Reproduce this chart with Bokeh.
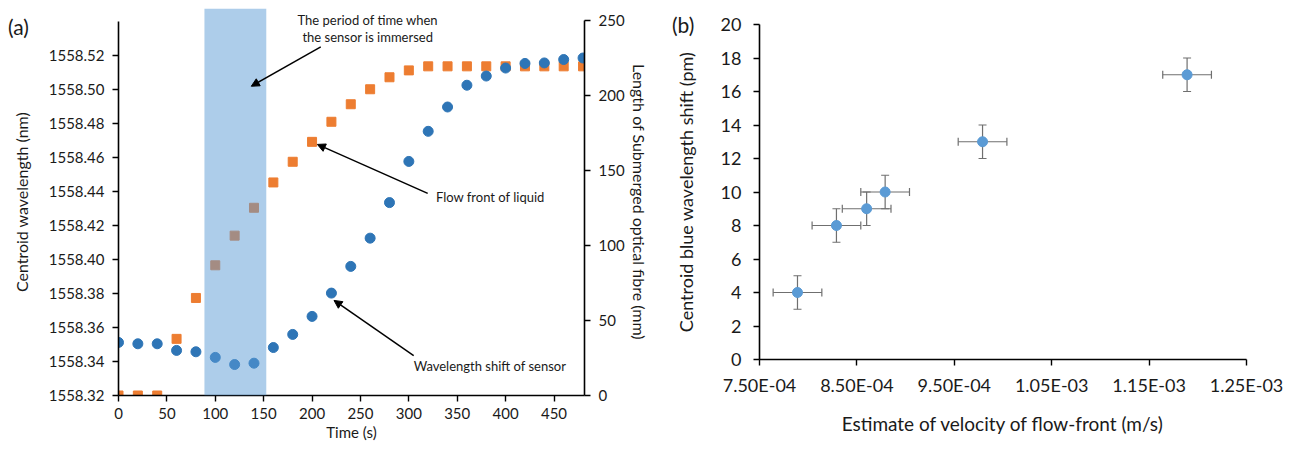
from bokeh.plotting import figure
from bokeh.models import (Range1d, LinearAxis, FixedTicker, BoxAnnotation, Arrow,
                          NormalHead, Label, Whisker, ColumnDataSource,
                          CustomJSTickFormatter, TeeHead, Div)
from bokeh.layouts import row
from bokeh.embed import file_html
from bokeh.resources import INLINE

# ---------------- data: panel (a) ----------------
time_s = [0, 20, 40, 60, 80, 100, 120, 140, 160, 180, 200, 220, 240, 260, 280,
          300, 320, 340, 360, 380, 400, 420, 440, 460, 480]
wavelength_nm = [1558.3512, 1558.3504, 1558.3504, 1558.3465, 1558.3457, 1558.3424,
                 1558.3382, 1558.3390, 1558.3482, 1558.3559, 1558.3665, 1558.3802,
                 1558.3959, 1558.4125, 1558.4334, 1558.4576, 1558.4753, 1558.4896,
                 1558.5024, 1558.5078, 1558.5125, 1558.5152, 1558.5155, 1558.5175,
                 1558.5184]
submerged_mm = [0, 0, 0, 37.8, 65.1, 86.9, 106.7, 125.3, 142.2, 156.0, 169.3, 182.7,
                194.4, 204.4, 212.4, 217.0, 219.7, 219.7, 219.7, 219.7, 219.7, 219.7,
                219.7, 219.7, 219.7]
immersed_start, immersed_end = 88.8, 152.7
time_ticks = [0, 50, 100, 150, 200, 250, 300, 350, 400, 450]
wl_ticks = [1558.32, 1558.34, 1558.36, 1558.38, 1558.40, 1558.42, 1558.44, 1558.46,
            1558.48, 1558.50, 1558.52]
len_ticks = [0, 50, 100, 150, 200, 250]

# ---------------- data: panel (b) ----------------
velocity = [7.89e-4, 8.29e-4, 8.60e-4, 8.79e-4, 9.79e-4, 1.189e-3]
blue_shift_pm = [4, 8, 9, 10, 13, 17]
velocity_err = [2.5e-5, 2.5e-5, 2.5e-5, 2.5e-5, 2.5e-5, 2.5e-5]
shift_err = [1, 1, 1, 1, 1, 1]
vel_ticks = [7.5e-4, 8.5e-4, 9.5e-4, 1.05e-3, 1.15e-3, 1.25e-3]
shift_ticks = [0, 2, 4, 6, 8, 10, 12, 14, 16, 18, 20]

FONT = "Lato"
TXT = "#1a1a1a"


def style_axis(ax, tick_size, title_size):
    ax.axis_line_color = "black"
    ax.axis_line_width = 1.6
    ax.major_tick_line_color = "black"
    ax.major_tick_line_width = 1.4
    ax.major_tick_out = 6
    ax.major_tick_in = 0
    ax.minor_tick_line_color = None
    ax.major_label_text_font = FONT
    ax.major_label_text_font_size = tick_size
    ax.major_label_text_color = TXT
    ax.axis_label_text_font = FONT
    ax.axis_label_text_font_size = title_size
    ax.axis_label_text_font_style = "normal"
    ax.axis_label_text_color = TXT


# ---------------- panel (a) ----------------
p1 = figure(width=660, height=453, output_backend="svg", toolbar_location=None,
            x_range=Range1d(0, 481.5), y_range=Range1d(1558.32, 1558.5475),
            min_border_left=118, min_border_right=76, min_border_top=8,
            min_border_bottom=58)
p1.frame_align = False
p1.outline_line_color = None
p1.border_fill_color = None
p1.grid.visible = False
p1.extra_y_ranges = {"len": Range1d(0, 258.3)}

p1.xaxis.ticker = FixedTicker(ticks=time_ticks)
p1.xaxis.axis_label = "Time (s)"
p1.xaxis.major_label_standoff = 6
p1.xaxis.axis_label_standoff = 1
style_axis(p1.xaxis[0], "15px", "15px")

p1.yaxis.ticker = FixedTicker(ticks=wl_ticks)
p1.yaxis.formatter = CustomJSTickFormatter(code="return tick.toFixed(2);")
p1.yaxis.axis_label = "Centroid wavelength (nm)"
p1.yaxis.bounds = (1558.32, 1558.54)
p1.yaxis.major_label_standoff = 8
p1.yaxis.axis_label_standoff = 15
style_axis(p1.yaxis[0], "15px", "16px")

ax_r = LinearAxis(y_range_name="len", ticker=FixedTicker(ticks=len_ticks),
                  bounds=(0, 250), axis_label="Length of Submerged optical fibre (mm)")
ax_r.major_label_standoff = 8
ax_r.axis_label_standoff = 2
style_axis(ax_r, "15px", "16px")
p1.add_layout(ax_r, "right")

p1.scatter(time_s, submerged_mm, y_range_name="len", marker="square", size=9,
           color="#ED7D31")
p1.scatter(time_s, wavelength_nm, marker="circle", size=10, color="#2E75B6")

p1.add_layout(BoxAnnotation(left=immersed_start, right=immersed_end,
                            bottom=1558.32, top=1558.5475, fill_color="#5B9BD5",
                            fill_alpha=0.5, line_color=None))

def arrow(x0, y0, x1, y1):
    return Arrow(end=NormalHead(size=8, fill_color="black", line_color="black"),
                 x_start=x0, y_start=y0, x_end=x1, y_end=y1,
                 line_color="black", line_width=1.5)

p1.add_layout(arrow(209, 1558.5249, 137.2, 1558.5018))
p1.add_layout(arrow(319.5, 1558.4388, 205.5, 1558.4676))
p1.add_layout(arrow(305, 1558.3435, 222.7, 1558.3759))

def label(plot, x, y, text, size="13px", align="left"):
    plot.add_layout(Label(x=x, y=y, text=text, text_font=FONT, text_font_size=size,
                          text_align=align, text_baseline="middle", text_color=TXT))

label(p1, 257.6, 1558.5406, "The period of time when", align="center")
label(p1, 257.6, 1558.5306, "the sensor is immersed", align="center")
label(p1, 328, 1558.4365, "Flow front of liquid")
label(p1, 305, 1558.3376, "Wavelength  shift of sensor")

# ---------------- panel (b) ----------------
p2 = figure(width=636, height=453, output_backend="svg", toolbar_location=None,
            x_range=Range1d(7.5e-4, 1.25e-3), y_range=Range1d(0, 20),
            min_border_left=99, min_border_right=50, min_border_top=24,
            min_border_bottom=94)
p2.frame_align = False
p2.outline_line_color = None
p2.border_fill_color = None
p2.grid.visible = False

p2.xaxis.ticker = FixedTicker(ticks=vel_ticks)
p2.xaxis.formatter = CustomJSTickFormatter(code="""
var s = tick.toExponential(2).toUpperCase();
var parts = s.split("E");
var e = parseInt(parts[1]);
var a = Math.abs(e);
return parts[0] + "E" + (e < 0 ? "-" : "+") + (a < 10 ? "0" : "") + a;
""")
p2.xaxis.axis_label = "Estimate of velocity of flow-front (m/s)"
p2.xaxis.major_label_standoff = 8
p2.xaxis.axis_label_standoff = 13
style_axis(p2.xaxis[0], "18px", "19px")

p2.yaxis.ticker = FixedTicker(ticks=shift_ticks)
p2.yaxis.axis_label = "Centroid blue wavelength shift (pm)"
p2.yaxis.major_label_standoff = 12
p2.yaxis.axis_label_standoff = 21
style_axis(p2.yaxis[0], "18px", "18px")

src = ColumnDataSource(dict(
    x=velocity, y=blue_shift_pm,
    xl=[v - e for v, e in zip(velocity, velocity_err)],
    xu=[v + e for v, e in zip(velocity, velocity_err)],
    yl=[s - e for s, e in zip(blue_shift_pm, shift_err)],
    yu=[s + e for s, e in zip(blue_shift_pm, shift_err)],
))
ecol = "#6f6f6f"
p2.add_layout(Whisker(source=src, base="y", lower="xl", upper="xu", dimension="width",
                      line_color=ecol, line_width=1.2,
                      upper_head=TeeHead(size=8, line_color=ecol, line_width=1.2),
                      lower_head=TeeHead(size=8, line_color=ecol, line_width=1.2)))
p2.add_layout(Whisker(source=src, base="x", lower="yl", upper="yu", dimension="height",
                      line_color=ecol, line_width=1.2,
                      upper_head=TeeHead(size=8, line_color=ecol, line_width=1.2),
                      lower_head=TeeHead(size=8, line_color=ecol, line_width=1.2)))
p2.scatter("x", "y", source=src, marker="circle", size=10, color="#5B9BD5")

# panel letters: zero-net-width Divs overlaid on the plots' left borders
div_style = {"font-family": FONT, "font-size": "21px", "color": TXT,
             "white-space": "nowrap", "z-index": "10", "position": "relative",
             "line-height": "26px"}
div_a = Div(text="(a)", width=34, height=28, margin=(14, -42, 0, 8), styles=div_style)
div_b = Div(text="(b)", width=34, height=28, margin=(12, -46, 0, 12), styles=div_style)

layout = row(div_a, p1, div_b, p2)
open("out.html", "w").write(file_html(layout, INLINE))
